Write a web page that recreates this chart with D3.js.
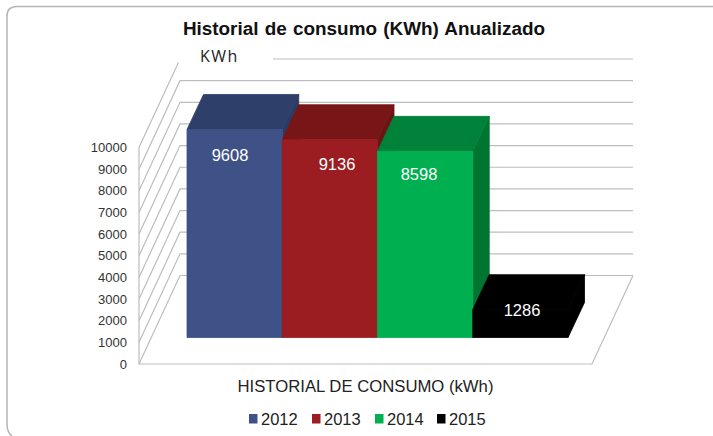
<!DOCTYPE html>
<html><head><meta charset="utf-8">
<script src="https://cdn.jsdelivr.net/npm/d3@7"></script>
<style>html,body{margin:0;padding:0;background:#fff}svg{display:block}</style></head>
<body><svg id="c" width="713" height="436"></svg>
<script>
const years = ["2012","2013","2014","2015"];
const consumo = [9608,9136,8598,1286];
const frontColors = ["#3f5287","#9b1d21","#00b050","#000000"];
const topColors = ["#2e3f69","#781516","#00823a","#000000"];
const sideColors = ["#2b3b63","#6c1316","#007531","#000000"];
const yTicks = [0,1000,2000,3000,4000,5000,6000,7000,8000,9000,10000];
const titleText = "Historial de consumo (KWh) Anualizado";
const unitText = "KWh";
const axisTitle = "HISTORIAL DE CONSUMO (kWh)";

const svg = d3.select("#c");
const font = "'Liberation Sans',Arial,sans-serif";
const floorY = 364, wallDx = 41, wallDy = -88.5, floorX0 = 139, floorX1 = 592;
const barBase = 337.5, barDx = 16.5, barDy = -35;
const y = d3.scaleLinear().domain([0,10000]).range([floorY, floorY-216.5]);
const h = d3.scaleLinear().domain([0,10000]).range([0,216.5]);
const x = d3.scaleBand().domain(years).range([187,568]).padding(0);
const grid = "#bdbdbd";

// panel
svg.append("path").attr("d","M12,436Q7,432 7,424V16Q7,6.5 17,6.5H713").attr("fill","none").attr("stroke","#b5b5b5").attr("stroke-width",1.5);

// walls
const g = svg.append("g").attr("fill","none").attr("stroke",grid).attr("stroke-width",1.2);
yTicks.forEach(t=>{
  const yy=y(t);
  g.append("path").attr("d",`M${floorX0},${yy}L${floorX0+wallDx},${yy+wallDy}H${floorX1+wallDx}`);
});
g.append("path").attr("d",`M${floorX0},${y(10000)}V${floorY}H${floorX1}L${floorX1+wallDx},${floorY+wallDy}`);

// unit label mask + text
svg.append("rect").attr("x",177).attr("y",40).attr("width",96).attr("height",22.5).attr("fill","#fff");
svg.append("text").attr("x",200).attr("y",62).attr("font-family","'Open Sans',sans-serif").attr("font-size",16).attr("letter-spacing",1.5).attr("fill","#222").text(unitText);

// bars: one polygon per face, with the black bar drawn as a single silhouette so no seams show
years.forEach((yr,i)=>{
  const x0=x(yr), x1=x0+x.bandwidth(), yb=barBase, yt=barBase-h(consumo[i]);
  const p=(pts,c)=>svg.append("polygon").attr("points",pts.map(d=>d.join(",")).join(" ")).attr("fill",c).attr("stroke",c).attr("stroke-width",0.8);
  p([[x1,yb],[x1+barDx,yb+barDy],[x1+barDx,yt+barDy],[x1,yt]],sideColors[i]);
  p([[x0,yt],[x0+barDx,yt+barDy],[x1+barDx,yt+barDy],[x1,yt]],topColors[i]);
  p([[x0,yb],[x1,yb],[x1,yt],[x0,yt]],frontColors[i]);
});
// value labels
const labelY=[155,164,173.5,310];
const labelX=[230,337,419,522];
svg.selectAll("text.v").data(consumo).join("text").attr("class","v")
  .attr("x",(d,i)=>labelX[i]).attr("y",(d,i)=>labelY[i]+6).attr("text-anchor","middle")
  .attr("font-family",font).attr("font-size",16.5).attr("fill","#fff").text(d=>d);

// y ticks
svg.selectAll("text.t").data(yTicks).join("text").attr("class","t")
  .attr("x",127).attr("y",d=>y(d)+4.5).attr("text-anchor","end")
  .attr("font-family",font).attr("font-size",13).attr("fill","#333").text(d=>d);

svg.append("text").attr("x",364).attr("y",35).attr("text-anchor","middle")
  .attr("font-family",font).attr("font-weight","bold").attr("font-size",18.9).attr("word-spacing",1).attr("fill","#111").text(titleText);
svg.append("text").attr("x",365.5).attr("y",391.5).attr("text-anchor","middle")
  .attr("font-family",font).attr("font-size",16.7).attr("fill","#222").text(axisTitle);

// legend
const lx=[249,312,375,437];
years.forEach((yr,i)=>{
  svg.append("rect").attr("x",lx[i]).attr("y",414).attr("width",8.5).attr("height",9.5).attr("fill",frontColors[i]);
  svg.append("text").attr("x",lx[i]+12).attr("y",424.5).attr("font-family",font).attr("font-size",16.5).attr("fill","#222").text(yr);
});
</script></body></html>
